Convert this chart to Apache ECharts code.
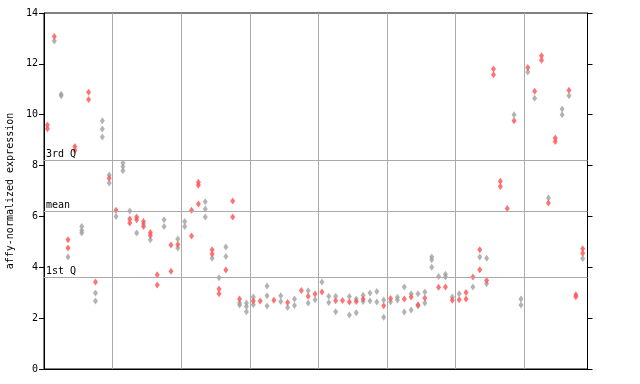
<!DOCTYPE html>
<html><head><meta charset="utf-8">
<script src="https://cdn.jsdelivr.net/npm/echarts@6/dist/echarts.min.js"></script>
<style>html,body{margin:0;padding:0;background:#fff}#c{width:640px;height:384px}</style>
</head><body><div id="c"></div>
<script>
// values per sample column (index = column)
const grayVals = [
 [], [12.9], [10.8,10.75], [4.4], [], [5.6,5.45,5.35], [], [2.99,2.67], [9.76,9.44,9.12], [7.63,7.31],
 [6.0], [8.1,7.95,7.8], [6.21], [5.35], [5.7], [5.08], [], [5.87,5.6], [], [5.11,4.76],
 [5.8,5.6], [], [], [6.58,6.29,5.98], [4.36], [3.59], [4.8,4.42], [], [2.6,2.52], [2.6,2.46,2.25],
 [2.83,2.53], [], [3.26,2.88,2.48], [], [2.88,2.65], [2.42], [2.75,2.5], [], [3.08,2.6], [2.72],
 [3.42], [2.86,2.62], [2.86,2.25], [], [2.85,2.12], [2.75,2.21], [2.9,2.65], [2.99,2.67], [3.05,2.63], [2.71,2.04],
 [2.63], [2.82,2.71], [3.22,2.24], [2.96,2.32], [2.96,2.48], [3.03,2.6], [4.4,4.3,4.0], [3.64], [3.73,3.62], [2.83],
 [2.96], [], [3.22], [4.4], [4.36,3.35], [], [], [], [10.0], [2.75,2.52],
 [11.68], [10.65], [], [6.72], [], [10.22,10.0], [10.75], [], [4.35]
];
const redVals = [
 [9.6,9.45], [13.08], [], [5.08,4.76], [8.75,8.6], [], [10.88,10.6], [3.42], [], [7.5],
 [6.24], [], [5.9,5.74], [5.98,5.87], [5.8,5.6], [5.37,5.25], [3.71,3.3], [], [4.88,3.84], [4.9],
 [], [6.24,5.23], [7.34,7.23,6.49], [], [4.69,4.52], [3.15,2.96], [3.89], [6.61,5.98], [2.75], [],
 [2.67], [2.67], [], [2.7], [], [2.62], [], [3.09], [2.86], [2.95],
 [3.03], [], [2.68], [2.69], [2.63], [2.65], [2.75], [], [], [2.49],
 [2.77], [], [2.75], [2.83], [2.53], [2.79], [], [3.21], [3.22], [2.7],
 [2.72], [3.01,2.75], [3.62], [4.69,3.9], [3.48], [11.8,11.57], [7.38,7.18], [6.31], [9.76], [],
 [11.86], [10.92], [12.32,12.14], [6.53], [9.08,8.95], [], [10.96], [2.92,2.84], [4.73,4.55]
];
const refLines = [
  {name: '3rd Q', value: 8.22},
  {name: 'mean', value: 6.2},
  {name: '1st Q', value: 3.6}
];
const yTicks = {min: 0, max: 14, step: 2};
const yTitle = 'affy-normalized expression';

function toPts(cols){
  const out = [];
  cols.forEach((vals, i) => vals.forEach(v => out.push([i + 0.5, v])));
  return out;
}
const font = 'DejaVu Sans Mono';
const chart = echarts.init(document.getElementById('c'));
chart.setOption({
  animation: false,
  grid: {left: 44, right: 52.5, top: 13, bottom: 15, show: true, borderColor: '#000', borderWidth: 1,
         outerBoundsMode: 'none', containLabel: false},
  xAxis: {
    type: 'value', min: 0, max: 79.2, interval: 10,
    axisLine: {show: true, lineStyle: {color: '#000'}},
    axisTick: {show: false}, axisLabel: {show: false},
    splitLine: {show: true, lineStyle: {color: '#aaa', width: 1}}
  },
  yAxis: [{
    type: 'value', min: yTicks.min, max: yTicks.max, interval: yTicks.step,
    name: yTitle, nameLocation: 'middle', nameGap: 29,
    nameTextStyle: {fontFamily: font, fontSize: 10, color: '#000'},
    axisLine: {show: true, lineStyle: {color: '#000'}},
    axisTick: {show: true, length: 5, lineStyle: {color: '#000'}},
    axisLabel: {fontFamily: font, fontSize: 10, color: '#000', margin: 6},
    splitLine: {show: false}
  }, {
    type: 'value', min: yTicks.min, max: yTicks.max, interval: yTicks.step, position: 'right',
    axisLine: {show: true, lineStyle: {color: '#000'}},
    axisTick: {show: true, length: 5, lineStyle: {color: '#000'}},
    axisLabel: {show: false}, splitLine: {show: false}
  }],
  series: [{
    type: 'scatter', symbol: 'diamond', symbolSize: [5, 7],
    itemStyle: {color: '#a0a0a0'},
    data: toPts(grayVals),
    markLine: {
      silent: true, symbol: 'none',
      lineStyle: {color: '#aaa', type: 'solid', width: 1},
      label: {position: 'insideStartTop', distance: [2, 1], fontFamily: font, fontSize: 10, color: '#000',
              formatter: p => p.name},
      data: refLines.map(r => ({name: r.name, yAxis: r.value}))
    }
  }, {
    type: 'scatter', symbol: 'diamond', symbolSize: [5, 7],
    itemStyle: {color: '#ff5050'},
    data: toPts(redVals)
  }]
});
</script></body></html>
